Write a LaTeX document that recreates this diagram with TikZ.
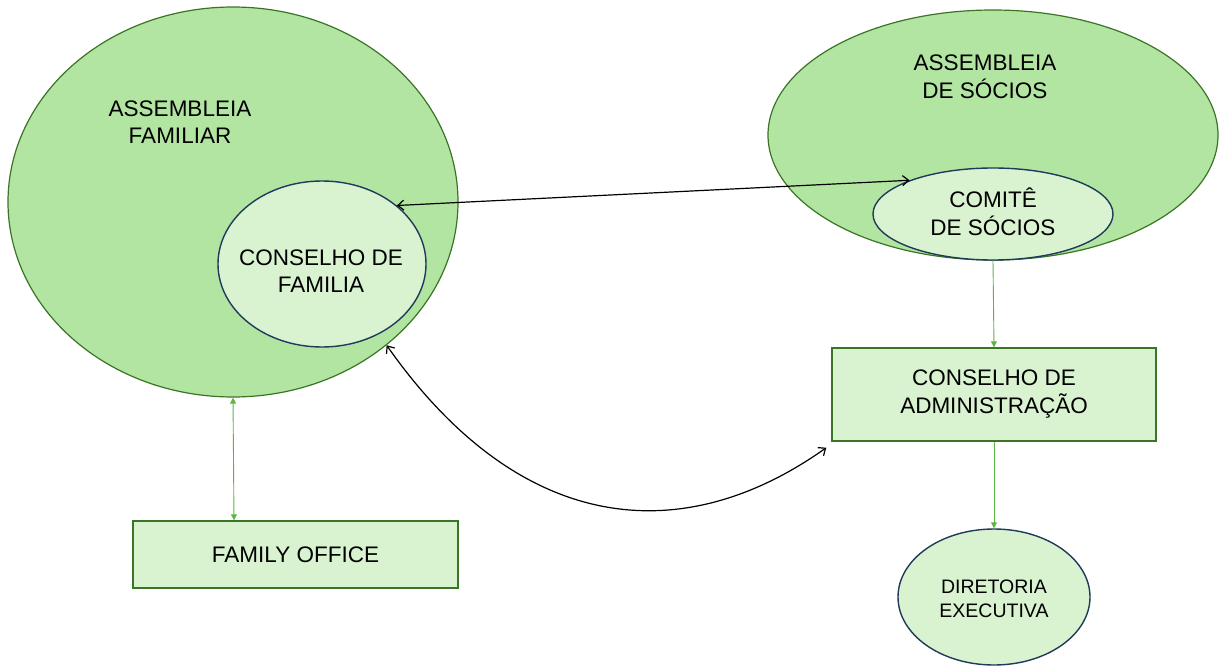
\documentclass[tikz,border=0pt]{standalone}
\usepackage{fontspec}
\setmainfont{Liberation Sans}
\usetikzlibrary{shapes.geometric,arrows.meta}
\definecolor{bigfill}{HTML}{B3E5A2}
\definecolor{lightfill}{HTML}{D9F2D0}
\definecolor{dkgreen}{HTML}{3A7424}
\definecolor{navy}{HTML}{1F3A5A}
\definecolor{arrgreen}{HTML}{5DB545}
\tikzset{
  x=1pt, y=-1pt,
  bigell/.style={ellipse, draw=dkgreen, line width=1.2pt, fill=bigfill, inner sep=0pt},
  smallell/.style={ellipse, draw=navy, line width=1.4pt, fill=lightfill, inner sep=0pt},
  greenbox/.style={rectangle, draw=dkgreen, line width=1.4pt, fill=lightfill, inner sep=0pt, align=center, font=\fontsize{22.5}{28}\selectfont},
  lbl/.style={align=center, font=\fontsize{22.5}{27.5}\selectfont, inner sep=0pt},
  blackarr/.style={line width=1.2pt, black, {Straight Barb[length=6pt,width=10pt]}-{Straight Barb[length=6pt,width=10pt]}},
  greenarr/.style={line width=0.9pt, arrgreen, -{Triangle[length=6pt,width=6pt]}},
  greendbl/.style={line width=0.9pt, arrgreen, {Triangle[length=6pt,width=6pt]}-{Triangle[length=6pt,width=6pt]}}
}
\begin{document}
\begin{tikzpicture}
\useasboundingbox (0,0) rectangle (1219,666);
% left group
\node[bigell, minimum width=450pt, minimum height=390pt] (famA) at (233,202) {};
\node[lbl] (famAt) at (180,122) {ASSEMBLEIA\\FAMILIAR};
\node[smallell, minimum width=208pt, minimum height=166pt] (famC) at (322,264) {};
\node[lbl] (famCt) at (321,271) {CONSELHO DE\\FAMILIA};
% right group
\node[bigell, minimum width=450pt, minimum height=250pt] (socA) at (993,135) {};
\node[lbl] (socAt) at (985,77) {ASSEMBLEIA\\DE SÓCIOS};
\node[smallell, minimum width=240pt, minimum height=92pt] (socC) at (993,214) {};
\node[lbl] (socCt) at (993,212) {COMITÊ\\DE SÓCIOS};
% boxes
\node[greenbox, minimum width=324pt, minimum height=93pt] (cadm) at (994,394.5) {CONSELHO DE\\ADMINISTRAÇÃO};
\node[smallell, minimum width=192pt, minimum height=136pt] (dir) at (994,597) {};
\node[lbl, font=\fontsize{19.5}{24}\selectfont] (dirt) at (994,599) {DIRETORIA\\EXECUTIVA};
\node[greenbox, minimum width=325pt, minimum height=67pt] (fo) at (295.5,554.5) {FAMILY OFFICE};
% connectors
\draw[blackarr] (famC.38.5) -- (socC.158.8);
\draw[blackarr] (famA.-43) .. controls (520,535) and (682,550) .. ([xshift=-5pt,yshift=-6pt]cadm.south west);
\draw[greendbl] (famA.south) -- ([xshift=1pt]famA.south |- fo.north);
\draw[greenarr] (socC.south) -- (cadm.north);
\draw[greenarr] (cadm.south) -- (dir.north);
\end{tikzpicture}
\end{document}
